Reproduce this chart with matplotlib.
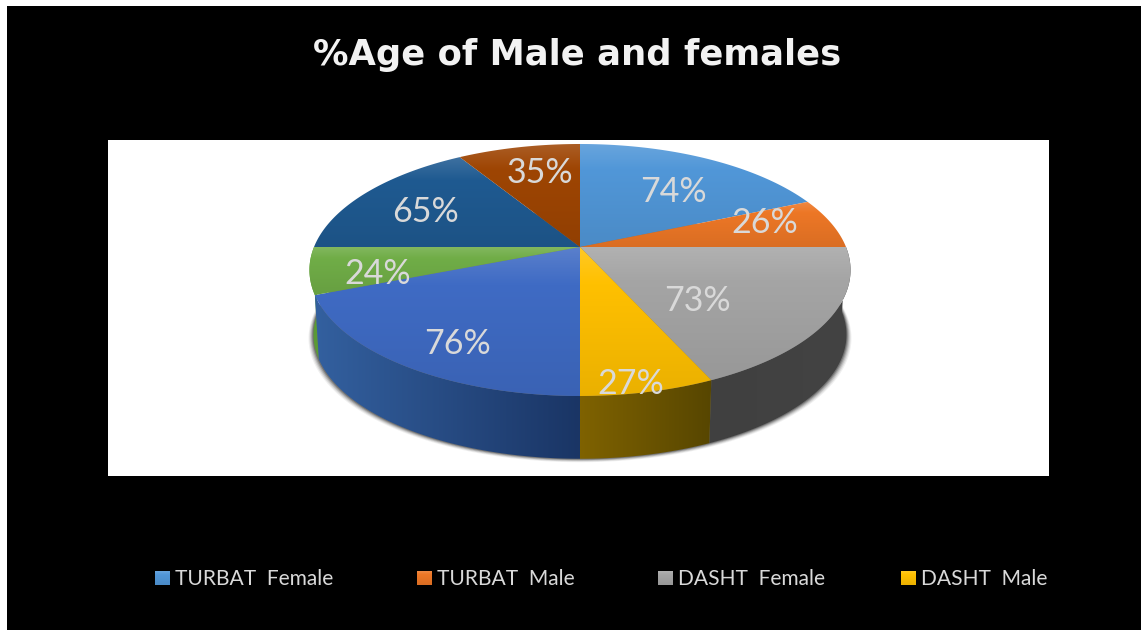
"""3D look pie chart: %age of male and females, drawn in pixel coordinates."""

import numpy as np
import matplotlib
matplotlib.use("Agg")
import matplotlib.pyplot as plt
from matplotlib.colors import to_rgb
from matplotlib.patches import PathPatch, Polygon, Rectangle
from matplotlib.path import Path

TITLE = "%Age of Male and females"
CATEGORIES = ["TURBAT  Female", "TURBAT  Male", "DASHT  Female", "DASHT  Male",
              "Group 5 A", "Group 5 B", "Group 6 A", "Group 6 B"]
VALUES = [74, 26, 73, 27, 76, 24, 65, 35]
COLORS = ["#5197D8", "#ED7726", "#A5A5A5", "#FFC000",
          "#3F6BC4", "#70AD47", "#1F5A91", "#9E4503"]
WALL_LEFT = {2: "#404040", 3: "#7F6200", 4: "#33609F", 5: "#5A9A35"}
WALL_RIGHT = {2: "#434343", 3: "#574600", 4: "#1A3565", 5: "#5A9A35"}

W, H = 1141, 630
LABEL_XY = [(673, 192), (765, 223), (697, 301), (631, 384),
            (457, 344), (378, 274), (425, 212), (540, 173)]
LEGEND_X = [155, 417, 658, 901]
LABEL_FONT = "Lato"
TEXT = "#D9D9D9"

# homography of the pie disc, fitted to the rim in the picture
CX, CY = 580.0, 247.0
RX, RY, PERSP = 266.0, 121.8, 0.1825
WALL_SCALE, WALL_DROP = 0.985, 65.0


def rim(theta):
    """Top rim point for clockwise angle from 12 o'clock, degrees."""
    t = np.radians(theta)
    u, v = np.sin(t), np.cos(t)
    w = 1 + PERSP * v
    return CX + RX * u / w, CY - RY * v / w


def low_rim(theta):
    x, y = rim(theta)
    return CX + (x - CX) * WALL_SCALE, CY + (y - CY) * WALL_SCALE + WALL_DROP


def mix(color, other, amount):
    c, o = np.array(to_rgb(color)), np.array(to_rgb(other))
    return c * (1 - amount) + o * amount


def gradient_fill(ax, verts, stops, horizontal=False, zorder=2):
    """Fill polygon with a gradient; stops are (position, rgb)."""
    verts = np.asarray(verts)
    x0, y0 = verts.min(axis=0)
    x1, y1 = verts.max(axis=0)
    pos = np.linspace(0, 1, 128)
    cols = np.stack([np.interp(pos, [s[0] for s in stops],
                               [s[1][i] for s in stops]) for i in range(3)], axis=-1)
    img = cols[np.newaxis, :, :] if horizontal else cols[:, np.newaxis, :]
    im = ax.imshow(img, extent=(x0, x1, y1, y0), origin="upper",
                   aspect="auto", zorder=zorder, interpolation="bilinear")
    patch = PathPatch(Path(np.vstack([verts, verts[0]]), closed=True),
                      transform=ax.transData, facecolor="none", edgecolor="none")
    ax.add_patch(patch)
    im.set_clip_path(patch)


def face_stops(color):
    return [(0, mix(color, "white", 0.14)), (0.25, mix(color, "white", 0.0)),
            (1, mix(color, "black", 0.08))]


fig = plt.figure(figsize=(W / 100, H / 100), dpi=100, facecolor="white")
ax = fig.add_axes([0, 0, 1, 1])
ax.axis("off")

ax.add_patch(Rectangle((7, 6), W - 7, H - 6, facecolor="black", edgecolor="none", zorder=0))
ax.add_patch(Rectangle((108, 140), 941, 336, facecolor="white", edgecolor="none", zorder=1))

edges = np.cumsum([0] + VALUES) / sum(VALUES) * 360.0

# soft shadow under the disc
low = np.array([low_rim(a) for a in np.linspace(0, 360, 361)])
for grow, alpha in zip([5, 4, 3, 2, 1], [0.06, 0.09, 0.13, 0.18, 0.25]):
    shadow = low.copy()
    shadow[:, 0] = CX + (low[:, 0] - CX) * (1 + grow / 266)
    shadow[:, 1] = low[:, 1] + grow * 0.7
    ax.add_patch(Polygon(shadow, closed=True, facecolor="black", alpha=alpha,
                         edgecolor="none", zorder=2))

# side wall, front half only
for i in WALL_LEFT:
    a = np.linspace(max(edges[i], 88), min(edges[i + 1], 272), 90)
    top = np.array([rim(t) for t in a])
    bot = np.array([low_rim(t) for t in a])
    verts = np.vstack([top, bot[::-1]])
    gradient_fill(ax, verts, [(0, to_rgb(WALL_LEFT[i])), (1, to_rgb(WALL_RIGHT[i]))],
                  horizontal=True, zorder=3 + (0 if i == 5 else 0.5))

# top face
for i, col in enumerate(COLORS):
    a = np.linspace(edges[i], edges[i + 1], 120)
    verts = np.vstack([[CX, CY], np.array([rim(t) for t in a])])
    gradient_fill(ax, verts, face_stops(col), zorder=5)

for val, (x, y) in zip(VALUES, LABEL_XY):
    ax.text(x, y, f"{val}%", color=TEXT, fontsize=24.5, family=LABEL_FONT,
            ha="center", va="center", zorder=8)

ax.text(577, 55, TITLE, color="#F2F2F2", fontsize=25.5, family="DejaVu Sans",
        fontweight="bold", ha="center", va="center", zorder=8)

# legend lists the first four categories only
for x, name, col in zip(LEGEND_X, CATEGORIES, COLORS):
    verts = [(x, 571), (x + 15, 571), (x + 15, 585), (x, 585)]
    gradient_fill(ax, verts, face_stops(col), zorder=5)
    ax.text(x + 20, 579, name, color=TEXT, fontsize=15.1, family=LABEL_FONT,
            ha="left", va="center", zorder=8)

ax.set_xlim(0, W)
ax.set_ylim(H, 0)
fig.savefig("out.png", dpi=100, facecolor="white")
